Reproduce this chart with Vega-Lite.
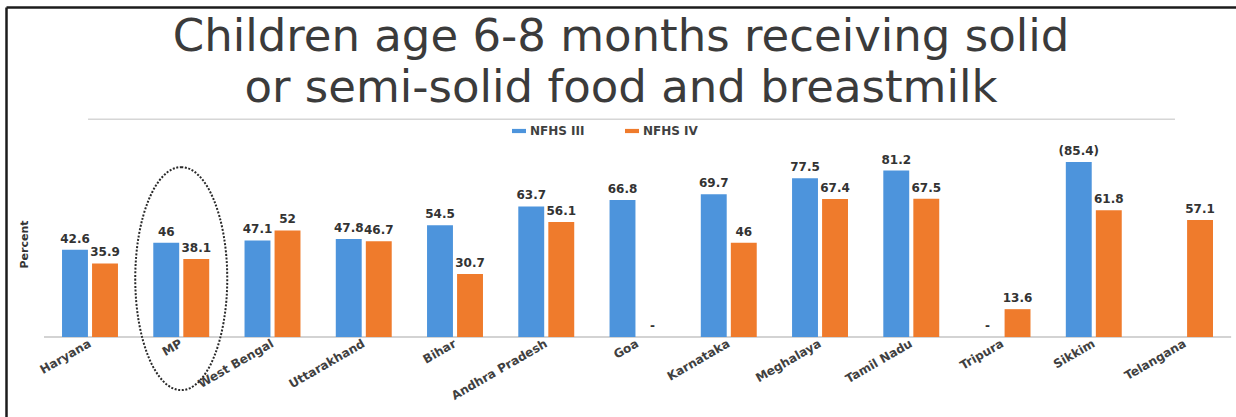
{
  "$schema": "https://vega.github.io/schema/vega-lite/v6.json",
  "width": 1230,
  "height": 410,
  "autosize": {"type": "none"},
  "padding": {"left": 6, "top": 7, "right": 0, "bottom": 0},
  "background": "white",
  "title": {
    "text": ["Children age 6-8 months receiving solid", "or semi-solid food and breastmilk"],
    "font": "DejaVu Sans",
    "fontSize": 45,
    "fontWeight": "normal",
    "color": "#3b3b3b",
    "lineHeight": 51,
    "anchor": "middle",
    "frame": "group",
    "offset": -104
  },
  "config": {"view": {"stroke": null}},
  "datasets": {
    "survey": [
      {"state": "Haryana", "series": "NFHS III", "value": 42.6, "label": "42.6"},
      {"state": "Haryana", "series": "NFHS IV", "value": 35.9, "label": "35.9"},
      {"state": "MP", "series": "NFHS III", "value": 46, "label": "46"},
      {"state": "MP", "series": "NFHS IV", "value": 38.1, "label": "38.1"},
      {"state": "West Bengal", "series": "NFHS III", "value": 47.1, "label": "47.1"},
      {"state": "West Bengal", "series": "NFHS IV", "value": 52, "label": "52"},
      {"state": "Uttarakhand", "series": "NFHS III", "value": 47.8, "label": "47.8"},
      {"state": "Uttarakhand", "series": "NFHS IV", "value": 46.7, "label": "46.7"},
      {"state": "Bihar", "series": "NFHS III", "value": 54.5, "label": "54.5"},
      {"state": "Bihar", "series": "NFHS IV", "value": 30.7, "label": "30.7"},
      {"state": "Andhra Pradesh", "series": "NFHS III", "value": 63.7, "label": "63.7"},
      {"state": "Andhra Pradesh", "series": "NFHS IV", "value": 56.1, "label": "56.1"},
      {"state": "Goa", "series": "NFHS III", "value": 66.8, "label": "66.8"},
      {"state": "Goa", "series": "NFHS IV", "value": null, "label": "-"},
      {"state": "Karnataka", "series": "NFHS III", "value": 69.7, "label": "69.7"},
      {"state": "Karnataka", "series": "NFHS IV", "value": 46, "label": "46"},
      {"state": "Meghalaya", "series": "NFHS III", "value": 77.5, "label": "77.5"},
      {"state": "Meghalaya", "series": "NFHS IV", "value": 67.4, "label": "67.4"},
      {"state": "Tamil Nadu", "series": "NFHS III", "value": 81.2, "label": "81.2"},
      {"state": "Tamil Nadu", "series": "NFHS IV", "value": 67.5, "label": "67.5"},
      {"state": "Tripura", "series": "NFHS III", "value": null, "label": "-"},
      {"state": "Tripura", "series": "NFHS IV", "value": 13.6, "label": "13.6"},
      {"state": "Sikkim", "series": "NFHS III", "value": 85.4, "label": "(85.4)"},
      {"state": "Sikkim", "series": "NFHS IV", "value": 61.8, "label": "61.8"},
      {"state": "Telangana", "series": "NFHS III", "value": null, "label": null},
      {"state": "Telangana", "series": "NFHS IV", "value": 57.1, "label": "57.1"}
    ]
  },
  "data": {"name": "survey"},
  "layer": [
    {
      "data": {"values": [{}]},
      "mark": {"type": "rule", "color": "#d6d6d6", "strokeWidth": 1.5},
      "encoding": {
        "x": {"datum": "Haryana", "bandPosition": 0.465},
        "x2": {"datum": "Telangana", "bandPosition": 0.32},
        "y": {"datum": 106.3}
      }
    },
    {
      "data": {"values": [{}]},
      "mark": {"type": "rule", "color": "#c4c4c4", "strokeWidth": 1.5},
      "encoding": {
        "x": {"datum": "Haryana", "bandPosition": -0.322},
        "x2": {"datum": "Telangana", "bandPosition": 1.324},
        "y": {"datum": 0}
      }
    },
    {
      "encoding": {
        "x": {
          "field": "state",
          "type": "nominal",
          "sort": null,
          "scale": {
            "domain": ["Haryana", "MP", "West Bengal", "Uttarakhand", "Bihar", "Andhra Pradesh", "Goa", "Karnataka", "Meghalaya", "Tamil Nadu", "Tripura", "Sikkim", "Telangana"],
            "paddingInner": 0.387,
            "paddingOuter": 0.433,
            "align": 0.709
          },
          "axis": {
            "title": null,
            "orient": "bottom",
            "offset": -80,
            "domain": false,
            "ticks": false,
            "grid": false,
            "labelAngle": -30,
            "labelPadding": 5,
            "labelFont": "DejaVu Sans",
            "labelFontWeight": "bold",
            "labelFontSize": 12,
            "labelColor": "#404040"
          }
        },
        "xOffset": {
          "field": "series",
          "type": "nominal",
          "scale": {"domain": ["NFHS III", "NFHS IV"], "paddingInner": 0.137, "paddingOuter": 0}
        },
        "y": {
          "field": "value",
          "type": "quantitative",
          "stack": null,
          "scale": {"domain": [-39, 161], "nice": false},
          "axis": {
            "title": "Percent",
            "labels": false,
            "ticks": false,
            "grid": true,
            "values": [161],
            "gridColor": "#1c1c1c",
            "gridWidth": 2.5,
            "gridOpacity": 1,
            "domain": true,
            "domainColor": "#1c1c1c",
            "domainWidth": 2.5,
            "titleX": 23,
            "titleY": 237,
            "titleFont": "DejaVu Sans",
            "titleFontSize": 11,
            "titleFontWeight": "bold",
            "titleColor": "#333333"
          }
        }
      },
      "layer": [
        {
          "mark": {"type": "bar"},
          "encoding": {
            "color": {
              "field": "series",
              "type": "nominal",
              "scale": {"domain": ["NFHS III", "NFHS IV"], "range": ["#4d94dc", "#ef7b2c"]},
              "legend": {
                "orient": "none",
                "legendX": 506,
                "legendY": 117,
                "direction": "horizontal",
                "title": null,
                "padding": 0,
                "symbolType": "M-1,-0.3H1V0.3H-1Z",
                "symbolSize": 196,
                "symbolStrokeWidth": 0,
                "labelOffset": 4,
                "columnPadding": 40,
                "labelFont": "DejaVu Sans",
                "labelFontWeight": "bold",
                "labelFontSize": 12,
                "labelColor": "#404040"
              }
            }
          }
        },
        {
          "transform": [{"filter": "datum.value != null"}],
          "mark": {"type": "text", "baseline": "bottom", "dy": -4, "font": "DejaVu Sans", "fontWeight": "bold", "fontSize": 12, "color": "#333333"},
          "encoding": {
            "text": {"field": "label"}
          }
        }
      ]
    },
    {
      "transform": [{"filter": "datum.label == '-'"}],
      "mark": {"type": "text", "baseline": "bottom", "dy": -4, "font": "DejaVu Sans", "fontWeight": "bold", "fontSize": 12, "color": "#333333"},
      "encoding": {
        "x": {"field": "state", "type": "nominal", "sort": null},
        "xOffset": {"field": "series", "type": "nominal"},
        "y": {"datum": 0},
        "text": {"field": "label"}
      }
    },
    {
      "data": {"values": [{}]},
      "mark": {
        "type": "point",
        "shape": "M0,-1 A0.4126,1 0 1,1 0,1 A0.4126,1 0 1,1 0,-1 Z",
        "size": 49729,
        "filled": false,
        "stroke": "#2a2a2a",
        "strokeWidth": 2,
        "strokeDash": [2, 1.6],
        "opacity": 1
      },
      "encoding": {
        "x": {"datum": "MP"},
        "y": {"datum": 28.5}
      }
    }
  ]
}
